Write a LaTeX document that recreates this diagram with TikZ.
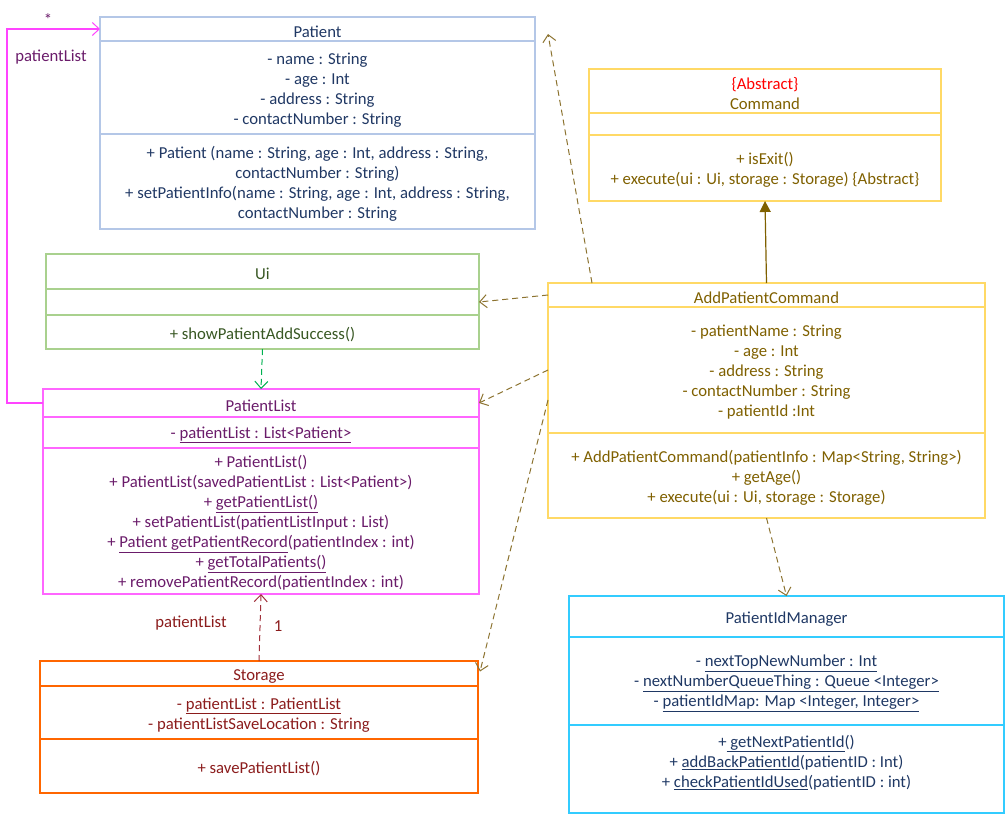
\documentclass[tikz,border=0pt]{standalone}
\usepackage{fontspec}
\setmainfont{Carlito}
\usetikzlibrary{arrows.meta,calc}
\definecolor{patB}{HTML}{B4C7E7}
\definecolor{patT}{HTML}{203864}
\definecolor{cmdB}{HTML}{FFD966}
\definecolor{cmdT}{HTML}{7F6000}
\definecolor{uiB}{HTML}{A9D18E}
\definecolor{uiT}{HTML}{385723}
\definecolor{plB}{HTML}{FF66FF}
\definecolor{plT}{HTML}{6A1B6A}
\definecolor{stB}{HTML}{FF6600}
\definecolor{stT}{HTML}{8B1C1C}
\definecolor{pimB}{HTML}{33CCFF}
\definecolor{pimT}{HTML}{1F3864}
\definecolor{depC}{HTML}{8C7330}
\definecolor{grnC}{HTML}{00B050}
\definecolor{redC}{HTML}{A0303A}
\definecolor{pinkC}{HTML}{FF44FF}
\newcommand\fl{\rule{0pt}{16.5pt}}
\begin{document}
\begin{tikzpicture}[x=1pt,y=-1pt,
  box/.style={draw, line width=1.6pt, anchor=north west, inner sep=0pt, outer sep=0pt, align=center,
    font=\fontsize{16.7pt}{20pt}\selectfont},
  patbox/.style={box, draw=patB, text=patT, minimum width=435pt},
  cmdbox/.style={box, draw=cmdB, text=cmdT, minimum width=352pt},
  uibox/.style={box, draw=uiB, text=uiT, minimum width=433pt},
  plbox/.style={box, draw=plB, text=plT, minimum width=436pt},
  stbox/.style={box, draw=stB, text=stT, minimum width=438pt},
  acbox/.style={box, draw=cmdB, text=cmdT, minimum width=437pt},
  pimbox/.style={box, draw=pimB, text=pimT, minimum width=435pt},
  lbl/.style={inner sep=0pt, font=\fontsize{16.7pt}{20pt}\selectfont},
  opentip/.style={-{Straight Barb[length=7pt,width=13pt,line width=1pt]}},
  dep/.style={draw=depC, line width=1pt, dash pattern=on 6pt off 4pt, opentip},
]
\useasboundingbox (0,0) rectangle (1005,814);

% Patient
\node[patbox, minimum height=24pt] (pat-n) at (100,17) {\fl Patient};
\node[patbox, minimum height=93pt] (pat-a) at (100,41) {\fl- name : String\\- age : Int\\- address : String\\- contactNumber : String};
\node[patbox, minimum height=95pt] (pat-m) at (100,134) {\fl+ Patient (name : String, age : Int, address : String,\\contactNumber : String)\\+ setPatientInfo(name : String, age : Int, address : String,\\contactNumber : String};

% Command
\node[cmdbox, minimum height=44pt] (cmd-n) at (589,69) {\fl\textcolor{red}{\{Abstract\}}\\Command};
\node[cmdbox, minimum height=22pt] (cmd-a) at (589,113) {};
\node[cmdbox, minimum height=66pt] (cmd-m) at (589,135) {\fl+ isExit()\\+ execute(ui : Ui, storage : Storage) \{Abstract\}};

% Ui
\node[uibox, minimum height=35pt] (ui-n) at (46,254) {\fl Ui};
\node[uibox, minimum height=26pt] (ui-e) at (46,289) {};
\node[uibox, minimum height=34pt] (ui-m) at (46,315) {\fl+ showPatientAddSuccess()};

% PatientList
\node[plbox, minimum height=28pt] (pl-n) at (43,389) {\fl PatientList};
\node[plbox, minimum height=31pt] (pl-a) at (43,417) {\fl- \underline{patientList : List<Patient>}};
\node[plbox, minimum height=146pt] (pl-m) at (43,448) {\fl+ PatientList()\\+ PatientList(savedPatientList : List<Patient>)\\+ \underline{getPatientList()}\\+ setPatientList(patientListInput : List)\\+ \underline{Patient getPatientRecord}(patientIndex : int)\\+ \underline{getTotalPatients()}\\+ removePatientRecord(patientIndex : int)};

% Storage
\node[stbox, minimum height=25pt] (st-n) at (40,661) {\fl Storage};
\node[stbox, minimum height=53pt] (st-a) at (40,686) {\fl- \underline{patientList : PatientList}\\- patientListSaveLocation : String};
\node[stbox, minimum height=54pt] (st-m) at (40,739) {\fl+ savePatientList()};

% AddPatientCommand
\node[acbox, minimum height=24pt] (ac-n) at (548,283) {\fl AddPatientCommand};
\node[acbox, minimum height=126pt] (ac-a) at (548,307) {\fl- patientName : String\\- age : Int\\- address : String\\- contactNumber : String\\- patientId :Int};
\node[acbox, minimum height=85pt] (ac-m) at (548,433) {\fl+ AddPatientCommand(patientInfo : Map<String, String>)\\+ getAge()\\+ execute(ui : Ui, storage : Storage)};

% PatientIdManager
\node[pimbox, minimum height=41pt] (pim-n) at (569,596) {\fl PatientIdManager};
\node[pimbox, minimum height=88pt] (pim-a) at (569,637) {\fl- \underline{nextTopNewNumber : Int}\\- \underline{nextNumberQueueThing : Queue <Integer>}\\- \underline{patientIdMap: Map <Integer, Integer>}};
\node[pimbox, minimum height=88pt] (pim-m) at (569,725) {\fl+\underline{\ getNextPatientId}()\\+ \underline{addBackPatientId}(patientID : Int)\\+ \underline{checkPatientIdUsed}(patientID : int)\\\mbox{}};

% Connectors
\coordinate (patTip) at (548,34);
\coordinate (acTop) at ($(ac-n.north west)+(44,0)$);
\coordinate (acLow) at ($(ac-a.west)+(0,30)$);
\coordinate (stTip) at ($(st-n.east)+(2,-2)$);

\draw[pinkC, line width=1.2pt, opentip] (pl-n.west) -- ++(-36,0) |- (pat-n.west);
\node[lbl, text=plT] (star) at (48,20) {*};
\node[lbl, text=plT] (plLbl) at (51,57) {patientList};

\draw[dep] (acTop) -- (patTip);
\draw[draw=cmdT, line width=1.2pt, -{Triangle[length=11pt,width=11pt]}] (ac-n.north) -- (cmd-m.south);
\draw[dep] (ac-n.west) -- (ui-e.east);
\draw[dep] (ac-a.west) -- (pl-n.east);
\draw[dep] (acLow) -- (stTip);
\draw[dep] (ac-m.south) -- (pim-n.north);
\draw[draw=grnC, line width=1pt, dash pattern=on 6pt off 4pt, opentip] (ui-m.south) -- (pl-n.north);
\draw[draw=redC, line width=1pt, dash pattern=on 6pt off 4pt, opentip] (st-n.north) -- (pl-m.south);
\node[lbl, text=stT] (plLbl2) at (191,623) {patientList};
\node[lbl, text=stT] (one) at (278,626) {1};
\end{tikzpicture}
\end{document}
